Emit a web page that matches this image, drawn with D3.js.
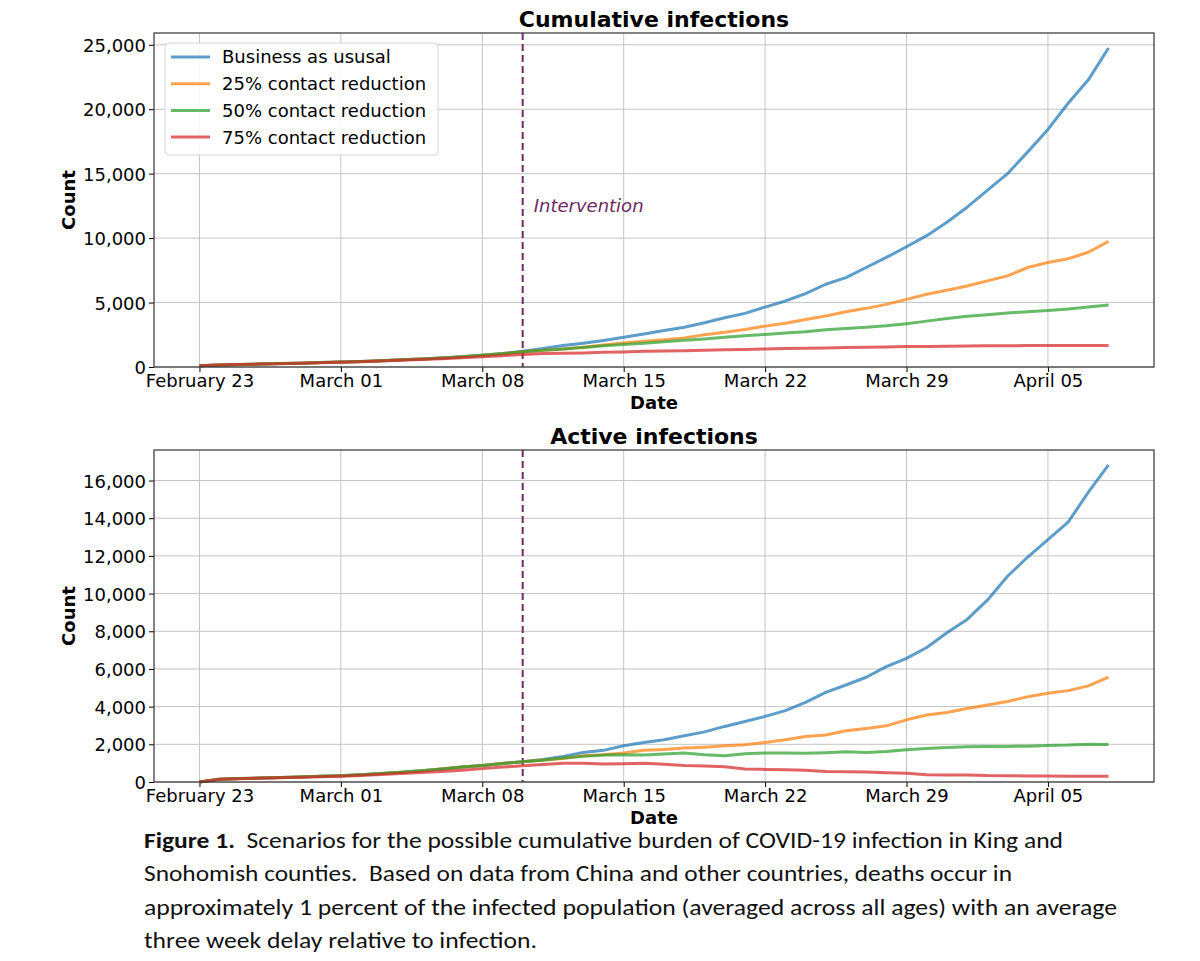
<!DOCTYPE html>
<html>
<head>
<meta charset="utf-8">
<script src="https://cdn.jsdelivr.net/npm/d3@7"></script>
<style>
  body { margin: 0; background: #fff; }
  .tick text { font-family: "DejaVu Sans", sans-serif; font-size: 18px; fill: #000; }
  .tick line { stroke: #000; }
  .axis-title { font-family: "DejaVu Sans", sans-serif; font-weight: bold; font-size: 18px; }
  .panel-title { font-family: "DejaVu Sans", sans-serif; font-weight: bold; font-size: 22px; }
  .caption text { font-family: Carlito, "Liberation Sans Narrow", Lato, sans-serif; font-size: 22px; fill: #111; white-space: pre; }
</style>
</head>
<body>
<div id="chart"></div>
<script>
// daily values, February 23 .. April 8 2020
const startDate = "2020-02-23";
const endDate = "2020-04-08";
const interventionDate = "2020-03-10";
const xTickDates = ["2020-02-23", "2020-03-01", "2020-03-08", "2020-03-15", "2020-03-22", "2020-03-29", "2020-04-05"];

const seriesNames = ["Business as ususal", "25% contact reduction", "50% contact reduction", "75% contact reduction"];
const seriesColors = ["#1f77b4", "#ff7f0e", "#2ca02c", "#d62728"];

const cumBau = [100, 160, 195, 230, 265, 300, 340, 385, 435, 490, 555, 625, 705, 800, 910, 1040, 1220, 1430, 1660, 1850,
  2050, 2310, 2560, 2830, 3090, 3430, 3820, 4160, 4650, 5120, 5690, 6420, 6940, 7720, 8500, 9330, 10190, 11230, 12400,
  13700, 15000, 16690, 18430, 20460, 22280, 24750];
const cum25 = [100, 160, 195, 230, 265, 300, 340, 385, 435, 490, 555, 625, 705, 800, 905, 1030, 1190, 1290, 1400, 1540,
  1700, 1870, 2000, 2110, 2260, 2500, 2700, 2910, 3170, 3400, 3690, 3950, 4290, 4550, 4860, 5250, 5640, 5950, 6290,
  6680, 7070, 7720, 8110, 8400, 8900, 9750];
const cum50 = [100, 160, 195, 230, 265, 300, 340, 385, 435, 490, 555, 625, 705, 800, 905, 1030, 1190, 1290, 1400, 1510,
  1640, 1740, 1850, 1950, 2080, 2180, 2310, 2420, 2520, 2630, 2730, 2890, 2990, 3090, 3200, 3350, 3560, 3770, 3930,
  4060, 4190, 4290, 4390, 4500, 4650, 4810];
const cum75 = [100, 160, 195, 225, 255, 290, 325, 365, 410, 460, 515, 575, 640, 710, 790, 880, 970, 1040, 1070, 1090,
  1140, 1170, 1220, 1250, 1270, 1300, 1330, 1350, 1400, 1430, 1460, 1480, 1510, 1530, 1560, 1590, 1600, 1610, 1620,
  1640, 1650, 1660, 1660, 1665, 1670, 1670];

const actBau = [0, 150, 180, 210, 240, 270, 300, 335, 390, 450, 520, 600, 690, 790, 880, 980, 1080, 1200, 1360, 1570,
  1680, 1920, 2100, 2240, 2450, 2660, 2950, 3210, 3480, 3790, 4230, 4760, 5150, 5560, 6120, 6560, 7140, 7920, 8630,
  9650, 10920, 11940, 12860, 13790, 15380, 16830];
const act25 = [0, 150, 180, 210, 240, 270, 300, 335, 390, 450, 520, 600, 690, 790, 880, 980, 1080, 1170, 1250, 1390,
  1450, 1540, 1680, 1730, 1800, 1850, 1920, 1980, 2100, 2240, 2420, 2490, 2720, 2840, 2980, 3300, 3560, 3690, 3900,
  4090, 4270, 4530, 4710, 4850, 5100, 5560];
const act50 = [0, 150, 180, 210, 240, 270, 300, 335, 390, 450, 520, 600, 690, 790, 880, 980, 1080, 1160, 1270, 1360,
  1430, 1450, 1430, 1480, 1540, 1450, 1390, 1500, 1540, 1540, 1520, 1550, 1600, 1570, 1620, 1710, 1780, 1830, 1870,
  1890, 1890, 1900, 1940, 1960, 2010, 1990];
const act75 = [0, 150, 175, 200, 225, 250, 280, 310, 350, 395, 445, 500, 560, 630, 710, 790, 860, 930, 990, 990,
  960, 970, 990, 940, 880, 850, 810, 690, 670, 650, 620, 560, 550, 530, 490, 460, 390, 370, 370,
  340, 335, 320, 320, 300, 300, 300];

const captionBold = "Figure 1.";
const captionLines = [
  "Scenarios for the possible cumulative burden of COVID-19 infection in King and",
  "Snohomish counties.  Based on data from China and other countries, deaths occur in",
  "approximately 1 percent of the infected population (averaged across all ages) with an average",
  "three week delay relative to infection."
];

const parse = d3.utcParse("%Y-%m-%d");
const days = d3.utcDay.range(parse(startDate), d3.utcDay.offset(parse(endDate), 1));

const width = 1200, height = 961;
const left = 154, right = 1154;

const svg = d3.select("#chart").append("svg")
  .attr("width", width)
  .attr("height", height)
  .style("font-family", "DejaVu Sans, sans-serif");

svg.append("rect").attr("width", width).attr("height", height).attr("fill", "#fff");

const pad = 2.25 * 864e5;
const x = d3.scaleUtc()
  .domain([+days[0] - pad, +days[days.length - 1] + pad])
  .range([left, right]);

function drawPanel(opts) {
  const g = svg.append("g");
  const allMax = d3.max(opts.series, s => d3.max(s));
  const y = d3.scaleLinear()
    .domain([0, allMax * 1.047])
    .range([opts.bottom, opts.top]);

  // grid
  g.append("g").selectAll("line")
    .data(xTickDates.map(parse))
    .join("line")
    .attr("x1", d => x(d)).attr("x2", d => x(d))
    .attr("y1", opts.top).attr("y2", opts.bottom)
    .attr("stroke", "#c4c4c4").attr("stroke-width", 1);
  g.append("g").selectAll("line")
    .data(opts.yTicks)
    .join("line")
    .attr("x1", left).attr("x2", right)
    .attr("y1", d => y(d)).attr("y2", d => y(d))
    .attr("stroke", "#c4c4c4").attr("stroke-width", 1);

  // axes
  g.append("g")
    .attr("transform", "translate(0," + opts.bottom + ")")
    .call(d3.axisBottom(x)
      .tickValues(xTickDates.map(parse))
      .tickFormat(d3.utcFormat("%B %d"))
      .tickSize(5).tickPadding(2))
    .call(a => a.select(".domain").remove());

  g.append("g")
    .attr("transform", "translate(" + left + ",0)")
    .call(d3.axisLeft(y)
      .tickValues(opts.yTicks)
      .tickFormat(d3.format(","))
      .tickSize(5).tickPadding(3))
    .call(a => a.select(".domain").remove())
    .selectAll(".tick text").attr("dy", "0.36em");

  // intervention
  const xi = x(parse(interventionDate));
  g.append("line")
    .attr("x1", xi).attr("x2", xi)
    .attr("y1", opts.top).attr("y2", opts.bottom)
    .attr("stroke", "#6e2a63")
    .attr("stroke-width", 2)
    .attr("stroke-dasharray", "7,4");

  if (opts.showNote) {
    g.append("text")
      .attr("x", xi + 11)
      .attr("y", y(12000))
      .attr("font-style", "italic")
      .attr("font-size", "18px")
      .attr("fill", "#6e2a63")
      .text("Intervention");
  }

  // lines
  const line = d3.line()
    .x((d, i) => x(days[i]))
    .y(d => y(d));
  opts.series.forEach((s, k) => {
    g.append("path")
      .datum(s)
      .attr("fill", "none")
      .attr("stroke", seriesColors[k])
      .attr("stroke-opacity", 0.72)
      .attr("stroke-width", 3)
      .attr("stroke-linejoin", "round")
      .attr("d", line);
  });

  // spines
  g.append("rect")
    .attr("x", left).attr("y", opts.top)
    .attr("width", right - left).attr("height", opts.bottom - opts.top)
    .attr("fill", "none")
    .attr("stroke", "#333")
    .attr("stroke-width", 1.2);

  // titles
  g.append("text")
    .attr("class", "panel-title")
    .attr("x", (left + right) / 2)
    .attr("y", opts.top - 6)
    .attr("text-anchor", "middle")
    .text(opts.title);

  g.append("text")
    .attr("class", "axis-title")
    .attr("x", (left + right) / 2)
    .attr("y", opts.bottom + 42)
    .attr("text-anchor", "middle")
    .text("Date");

  g.append("text")
    .attr("class", "axis-title")
    .attr("transform", "rotate(-90)")
    .attr("x", -(opts.top + opts.bottom) / 2)
    .attr("y", 75)
    .attr("text-anchor", "middle")
    .text("Count");

  if (opts.showLegend) {
    const lg = g.append("g").attr("transform", "translate(165,43)");
    lg.append("rect")
      .attr("width", 273).attr("height", 112)
      .attr("rx", 4)
      .attr("fill", "#fff").attr("fill-opacity", 0.85)
      .attr("stroke", "#d6d6d6");
    seriesNames.forEach((name, k) => {
      const yy = 14 + k * 26.7;
      lg.append("line")
        .attr("x1", 6).attr("x2", 45)
        .attr("y1", yy).attr("y2", yy)
        .attr("stroke", seriesColors[k])
        .attr("stroke-opacity", 0.72)
        .attr("stroke-width", 3);
      lg.append("text")
        .attr("x", 57).attr("y", yy)
        .attr("dy", "0.36em")
        .attr("font-size", "18px")
        .text(name);
    });
  }
}

drawPanel({
  title: "Cumulative infections",
  top: 33, bottom: 367,
  series: [cumBau, cum25, cum50, cum75],
  yTicks: [0, 5000, 10000, 15000, 20000, 25000],
  showLegend: true, showNote: true
});

drawPanel({
  title: "Active infections",
  top: 450, bottom: 782,
  series: [actBau, act25, act50, act75],
  yTicks: [0, 2000, 4000, 6000, 8000, 10000, 12000, 14000, 16000],
  showLegend: false, showNote: false
});

// caption
const capWidths = [919, 868, 973, 393];
const cap = svg.append("g").attr("class", "caption");
captionLines.forEach((t, i) => {
  const txt = cap.append("text")
    .attr("x", 144)
    .attr("y", 848 + i * 33.3)
    .attr("textLength", capWidths[i])
    .attr("lengthAdjust", "spacingAndGlyphs");
  if (i === 0) {
    txt.append("tspan").attr("font-weight", "bold").text(captionBold);
    txt.append("tspan").text("  " + t);
  } else {
    txt.text(t);
  }
});
</script>
</body>
</html>
